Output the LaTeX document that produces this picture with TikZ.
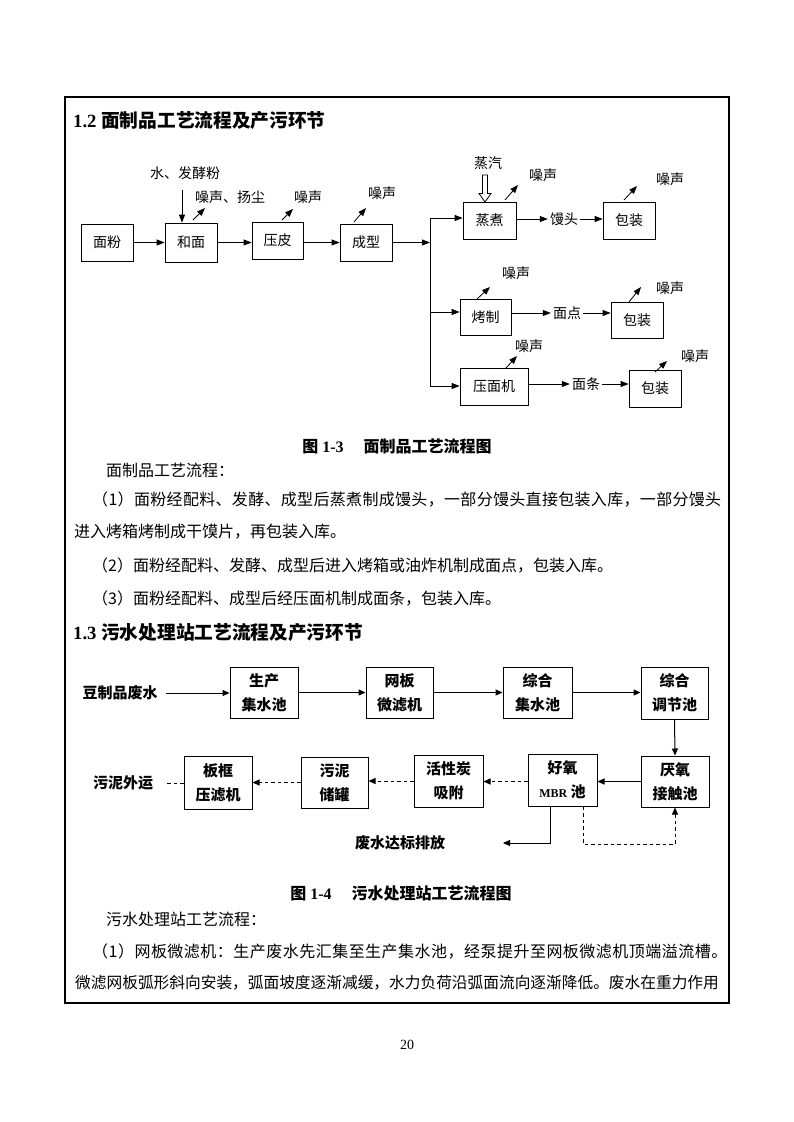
\documentclass[tikz,border=0pt]{standalone}
\usepackage{fontspec}
\setmainfont{Liberation Serif}
\newfontfamily\cjk{Noto Sans CJK SC}
\usetikzlibrary{arrows.meta}
\tikzset{
  tbox/.style={draw, line width=0.8pt, inner sep=0pt, font=\cjk\fontsize{14}{14}\selectfont},
  tlab/.style={inner sep=2pt, font=\cjk\fontsize{14}{14}\selectfont},
  tline/.style={line width=0.8pt},
  tarr/.style={line width=0.8pt, -{Triangle[length=8pt,width=6pt]}},
  bbox/.style={draw, line width=1pt, inner sep=0pt, align=center, font=\cjk\bfseries\fontsize{15}{24}\selectfont},
  blab/.style={inner sep=2pt, font=\cjk\bfseries\fontsize{15}{15}\selectfont},
  barr/.style={line width=1pt, -{Triangle[length=7pt,width=6pt]}},
  bdash/.style={barr, dash pattern=on 3.5pt off 3pt},
  dline/.style={line width=1pt, dash pattern=on 3.5pt off 3pt},
  body/.style={anchor=west, inner sep=0pt, font=\cjk\fontsize{16}{16}\selectfont},
  head/.style={anchor=west, inner sep=0pt, font=\bfseries\fontsize{18.7}{20}\selectfont},
  capt/.style={inner sep=0pt, font=\bfseries\fontsize{16}{16}\selectfont}
}
\begin{document}
\begin{tikzpicture}[x=1pt,y=-1pt]
\useasboundingbox (0,0) rectangle (793,1122);
\fill[white] (0,0) rectangle (793,1122);
\draw[line width=2pt] (65,97) rectangle (729,1003);

% ---------- section 1.2 ----------
\node[head] (t1) at (73,120) {1.2 {\cjk 面制品工艺流程及产污环节}};

\node[tbox, minimum width=52pt, minimum height=37pt] (mf) at (107,242.5) {面粉};
\node[tbox, minimum width=52pt, minimum height=39pt] (hm) at (191,242.5) {和面};
\node[tbox, minimum width=51pt, minimum height=37pt] (yp) at (277.5,240.5) {压皮};
\node[tbox, minimum width=52pt, minimum height=37pt] (cx) at (366,242.5) {成型};
\node[tbox, minimum width=53pt, minimum height=37pt] (zz) at (489.5,220.5) {蒸煮};
\node[tbox, minimum width=52pt, minimum height=37pt] (bz1) at (629,220.5) {包装};
\node[tbox, minimum width=51pt, minimum height=36pt] (kz) at (485.5,317) {烤制};
\node[tbox, minimum width=52pt, minimum height=36pt] (bz2) at (637,320) {包装};
\node[tbox, minimum width=68pt, minimum height=37pt] (ymj) at (494,386.5) {压面机};
\node[tbox, minimum width=52pt, minimum height=37pt] (bz3) at (655,388.5) {包装};

\draw[tarr] (mf.east) -- (hm.west);
\draw[tarr] (hm.east) -- (hm.east -| yp.west);
\draw[tarr] (yp.east |- cx.east) -- (cx.west);

\coordinate (bt) at (430,218);
\coordinate (bm) at (430,312);
\coordinate (bb) at (430,386);
\draw[tline] (bt) -- (bb);
\draw[tarr] (cx.east) -- (cx.east -| bt);
\draw[tarr] (bt) -- (bt -| zz.west);
\draw[tarr] (bm) -- (bm -| kz.west);
\draw[tarr] (bb) -- (bb -| ymj.west);

% inputs
\node[tlab] (wf) at (185,173) {水、发酵粉};
\coordinate (wa) at (182,190);
\draw[tarr] (wa) -- (wa |- hm.north);
\node[tlab] (zq) at (488,163) {蒸汽};
\draw[line width=0.8pt, fill=white] (482.5,175) -- (487.5,175) -- (487.5,193.5) -- (491,193.5) -- (485,202) -- (479,193.5) -- (482.5,193.5) -- cycle;

% products
\node[tlab] (mt) at (564,219) {馒头};
\draw[tarr] (zz.east |- mt) -- (mt.west);
\draw[tarr] (mt.east) -- (bz1.west |- mt);
\node[tlab] (md) at (567,313) {面点};
\draw[tarr] (kz.east |- md) -- (md.west);
\draw[tarr] (md.east) -- (bz2.west |- md);
\node[tlab] (mtiao) at (586,384) {面条};
\draw[tarr] (ymj.east |- mtiao) -- (mtiao.west);
\draw[tarr] (mtiao.east) -- (bz3.west |- mtiao);

% noise
\node[tlab] (n1) at (230,197) {噪声、扬尘};
\coordinate (n1a) at (193,220); \coordinate (n1b) at (205,208);
\draw[tarr] (n1a) -- (n1b);
\node[tlab] (n2) at (308,197) {噪声};
\coordinate (n2a) at (282,220); \coordinate (n2b) at (293,209);
\draw[tarr] (n2a) -- (n2b);
\node[tlab] (n3) at (382,193) {噪声};
\coordinate (n3a) at (354,222); \coordinate (n3b) at (366,208);
\draw[tarr] (n3a) -- (n3b);
\node[tlab] (n4) at (543,175) {噪声};
\coordinate (n4a) at (505,200); \coordinate (n4b) at (518,185);
\draw[tarr] (n4a) -- (n4b);
\node[tlab] (n5) at (670,179) {噪声};
\coordinate (n5a) at (624,200); \coordinate (n5b) at (637,186);
\draw[tarr] (n5a) -- (n5b);
\node[tlab] (n6) at (516,273) {噪声};
\coordinate (n6a) at (477,299); \coordinate (n6b) at (490,287);
\draw[tarr] (n6a) -- (n6b);
\node[tlab] (n7) at (670,288) {噪声};
\coordinate (n7a) at (629,302); \coordinate (n7b) at (641,287);
\draw[tarr] (n7a) -- (n7b);
\node[tlab] (n8) at (529,346) {噪声};
\coordinate (n8a) at (506,368); \coordinate (n8b) at (517,356);
\draw[tarr] (n8a) -- (n8b);
\node[tlab] (n9) at (695,356) {噪声};
\coordinate (n9a) at (655,372); \coordinate (n9b) at (667,361);
\draw[tarr] (n9a) -- (n9b);

\node[capt] (c1) at (397,446) {{\cjk 图} 1-3\hspace{20pt}{\cjk 面制品工艺流程图}};

\node[body] (p1) at (106,470) {面制品工艺流程：};
\node[body] (p2) at (92,500) {\addfontfeature{LetterSpace=2.0}（1）面粉经配料、发酵、成型后蒸煮制成馒头，一部分馒头直接包装入库，一部分馒头};
\node[body] (p3) at (74,532) {进入烤箱烤制成干馍片，再包装入库。};
\node[body] (p4) at (92,565) {（2）面粉经配料、发酵、成型后进入烤箱或油炸机制成面点，包装入库。};
\node[body] (p5) at (92,598) {（3）面粉经配料、成型后经压面机制成面条，包装入库。};

% ---------- section 1.3 ----------
\node[head] (t2) at (73,632) {1.3 {\cjk 污水处理站工艺流程及产污环节}};

\node[bbox, minimum width=68pt, minimum height=51pt] (scj) at (264,692.5) {生产\\集水池};
\node[bbox, minimum width=67pt, minimum height=51pt] (wb) at (399.5,692.5) {网板\\微滤机};
\node[bbox, minimum width=69pt, minimum height=51pt] (zh) at (537.5,692.5) {综合\\集水池};
\node[bbox, minimum width=67pt, minimum height=52pt] (tj) at (674.5,693) {综合\\调节池};
\node[bbox, minimum width=68pt, minimum height=51pt] (yy) at (675,781.5) {厌氧\\接触池};
\node[bbox, minimum width=69pt, minimum height=52pt] (hy) at (562.5,780) {好氧\\{\rmfamily\fontsize{12}{12}\selectfont MBR} 池};
\node[bbox, minimum width=69pt, minimum height=52pt] (hx) at (448.5,781) {活性炭\\吸附};
\node[bbox, minimum width=67pt, minimum height=51pt] (wn) at (334.5,782.5) {污泥\\储罐};
\node[bbox, minimum width=68pt, minimum height=53pt] (bk) at (218,783) {板框\\压滤机};

\node[blab] (dz) at (120,693) {豆制品废水};
\node[blab] (wy) at (123,783) {污泥外运};
\node[blab] (fs) at (400,843) {废水达标排放};

\draw[barr] ([xshift=6pt]dz.east) -- (dz.east -| scj.west);
\draw[barr] (scj.east) -- (wb.west);
\draw[barr] (wb.east) -- (zh.west);
\draw[barr] (zh.east) -- (zh.east -| tj.west);
\draw[barr] (tj.south) -- (yy.north);
\draw[barr] (yy.west) -- (yy.west -| hy.east);
\draw[bdash] (hy.west |- yy.west) -- (hx.east |- yy.west);
\draw[bdash] (hx.west) -- (hx.west -| wn.east);
\draw[bdash] (wn.west) -- (wn.west -| bk.east);
\draw[dline] (bk.west) -- ([xshift=12pt]wy.east);

\coordinate (d1) at (550,843);
\coordinate (de) at (503,843);
\draw[barr] (hy.south -| d1) -- (d1) -- (de);
\coordinate (r1) at (583,844);
\draw[bdash] (hy.south -| r1) -- (r1) -- (r1 -| yy.south) -- (yy.south);

\node[capt] (c2) at (401,893) {{\cjk 图} 1-4\hspace{20pt}{\cjk 污水处理站工艺流程图}};

\node[body] (q1) at (106,919) {污水处理站工艺流程：};
\node[body] (q2) at (92,951) {\addfontfeature{LetterSpace=3.0}（1）网板微滤机：生产废水先汇集至生产集水池，经泵提升至网板微滤机顶端溢流槽。};
\node[body, font=\cjk\fontsize{15.7}{16}\selectfont] (q3) at (75,983) {微滤网板弧形斜向安装，弧面坡度逐渐减缓，水力负荷沿弧面流向逐渐降低。废水在重力作用};

\node[inner sep=0pt, font=\fontsize{14}{14}\selectfont] (pg) at (407,1045) {20};
\end{tikzpicture}
\end{document}
